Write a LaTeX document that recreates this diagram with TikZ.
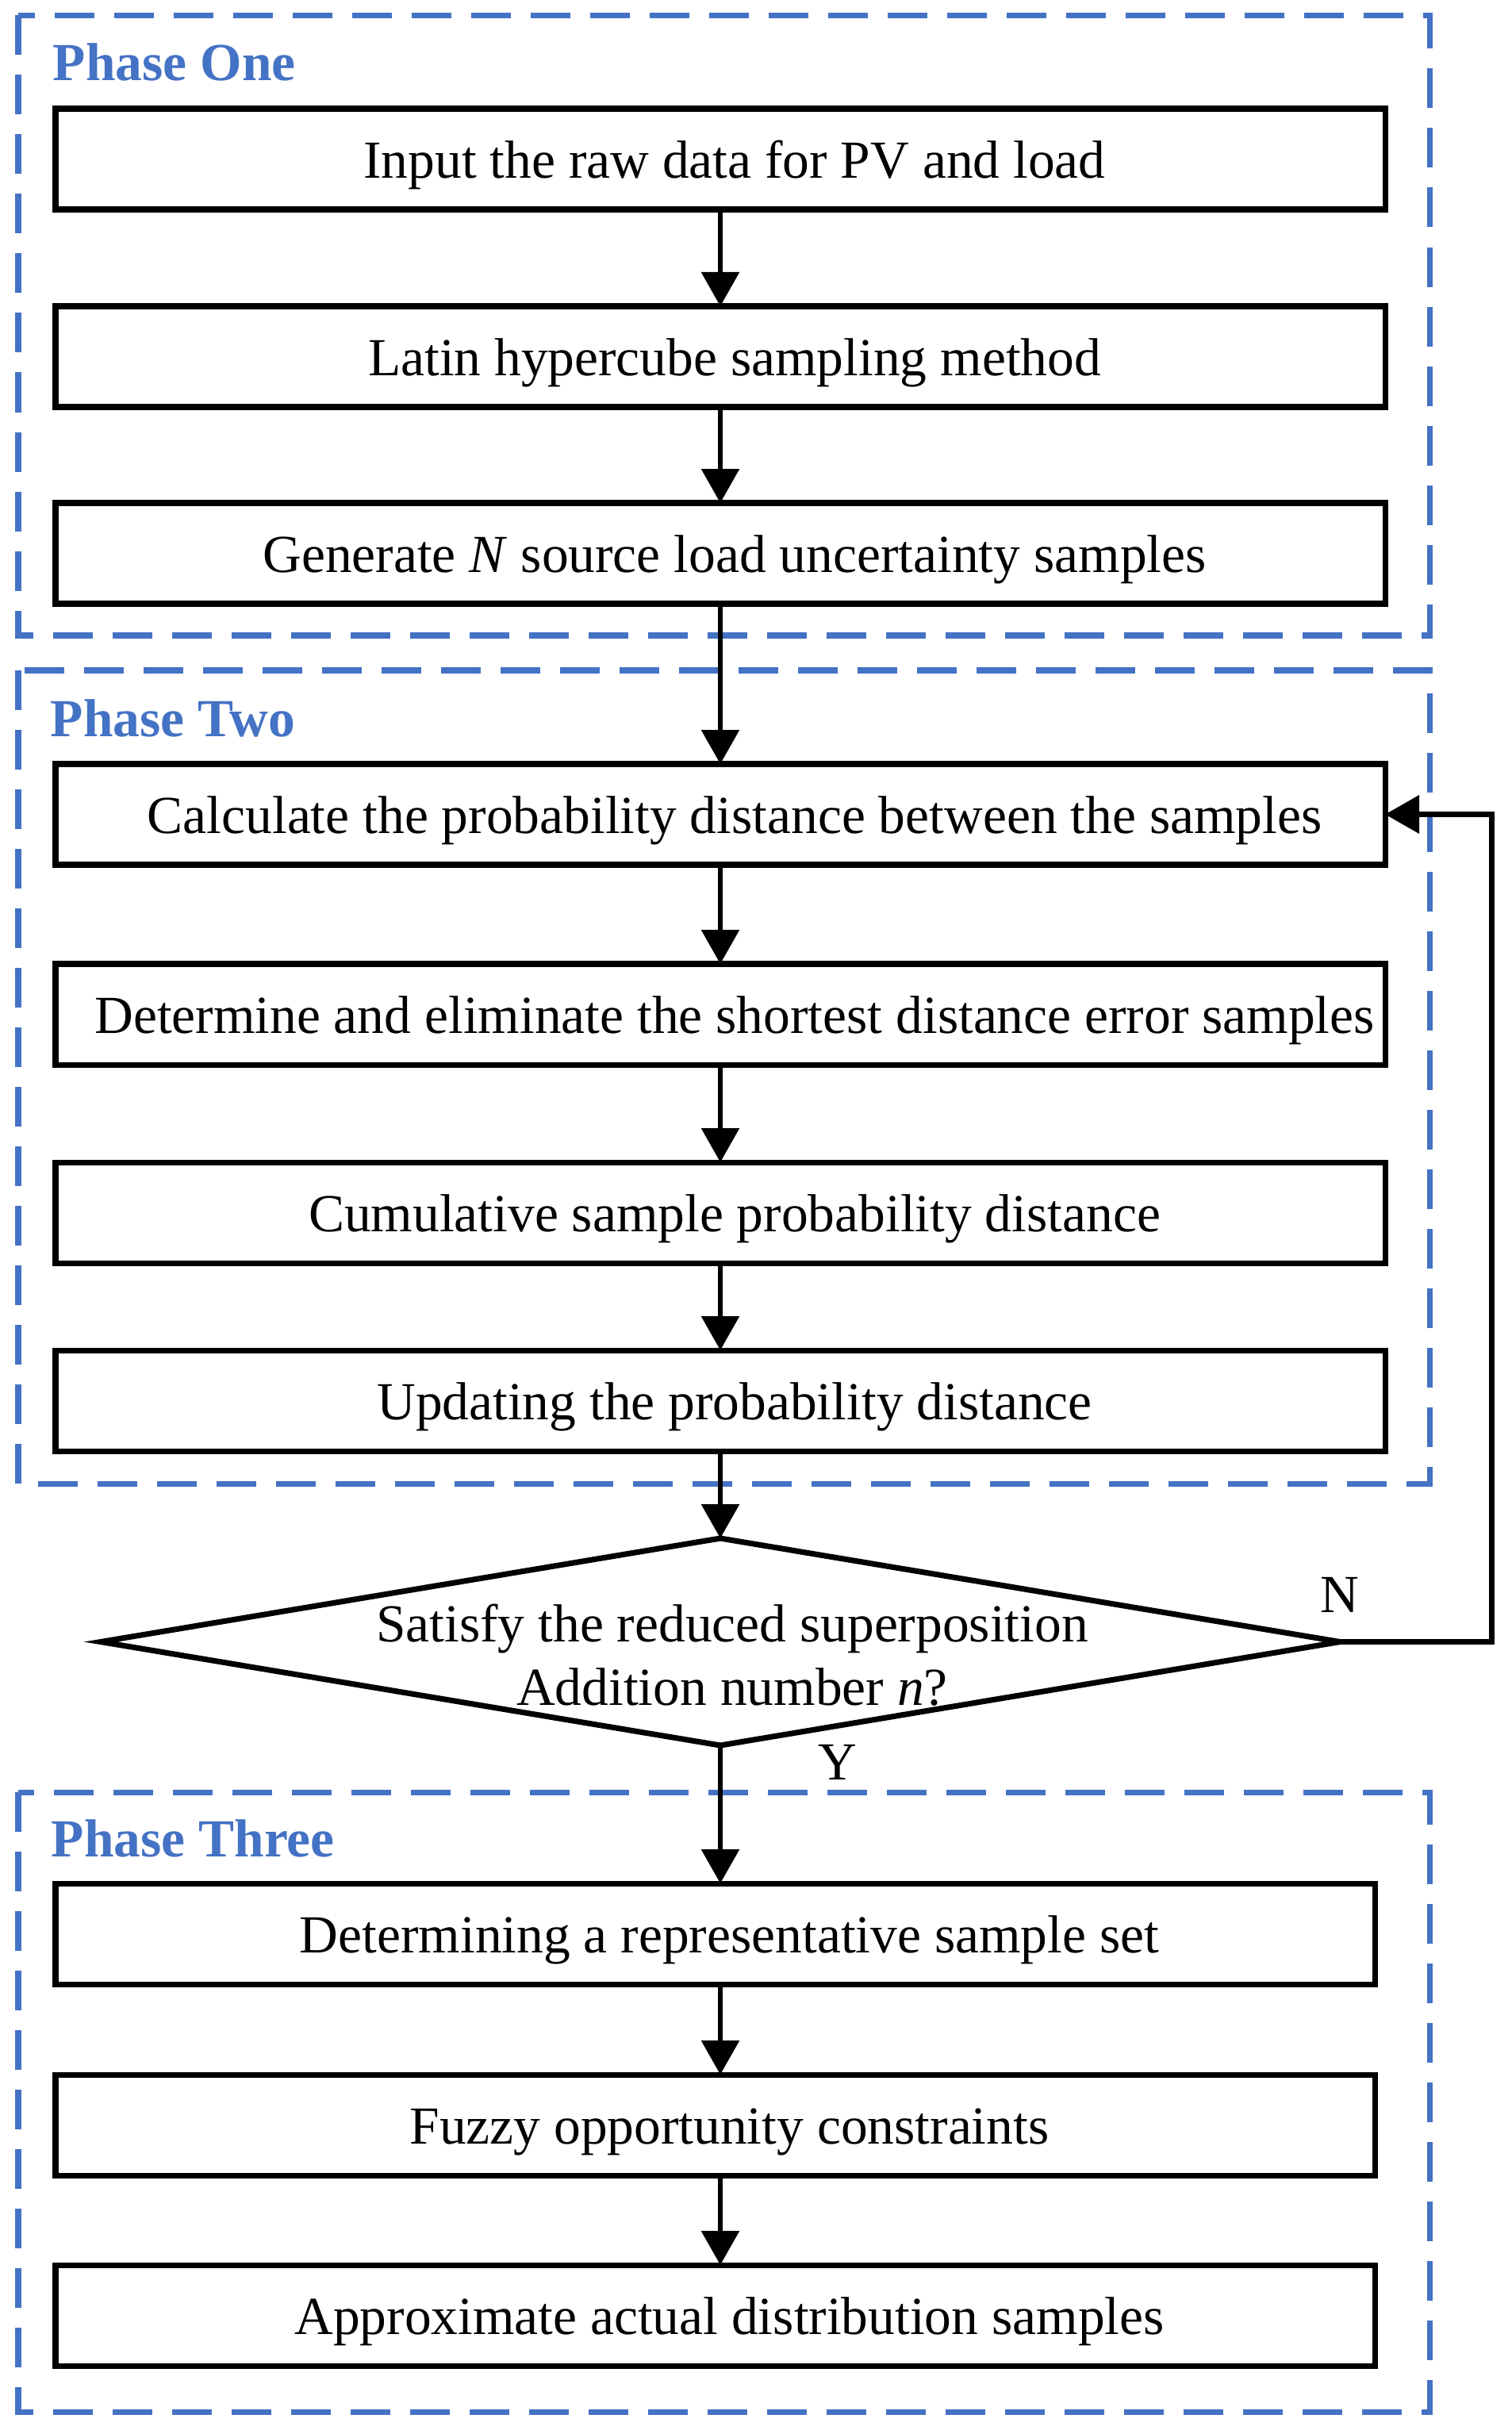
\documentclass[tikz,border=0pt]{standalone}
\usepackage{fontspec}
\setmainfont{Liberation Serif}
\usetikzlibrary{positioning}
\usetikzlibrary{arrows.meta}
\usetikzlibrary{shapes.geometric}
\definecolor{phaseblue}{RGB}{68,114,196}

\begin{document}
\begin{tikzpicture}
[-,line width=1.7pt,>={Triangle[length=0.43cm,width=0.47cm]},
 font=\fontsize{19.2pt}{22.8pt}\selectfont,
 box/.style={draw,line width=2pt,minimum width=16.76cm,minimum height=1.27cm,
   inner sep=0pt,outer sep=0pt,text height=0.6cm,text depth=0.12cm,
   execute at begin node=\hspace*{0.36cm}},
 phase/.style={draw=phaseblue,line width=2pt,dash pattern=on 0.5cm off 0.25cm},
 phasename/.style={anchor=base west,inner sep=0pt,text=phaseblue,
   font=\fontsize{19.2pt}{22.8pt}\selectfont\bfseries}]
\useasboundingbox (0,0) rectangle (19.05,-30.63);
\draw[phase] (0.23,-0.195) rectangle (18.02,-8.01);
\draw[phase] (0.23,-8.45) rectangle (18.02,-18.70);
\draw[phase] (0.23,-22.59) rectangle (18.02,-30.40);
\node (one) [phasename] at (0.64,-1.02) {Phase One};
\node (two) [phasename] at (0.61,-9.28) {Phase Two};
\node (three) [phasename] at (0.62,-23.40) {Phase Three};

\node (b1) [box] at (9.08,-2.005) {Input the raw data for PV and load};
\node (b2) [box,below=1.22cm of b1] {Latin hypercube sampling method};
\node (b3) [box,below=1.21cm of b2] {Generate \textit{N} source load uncertainty samples};
\node (b4) [box,below=2.02cm of b3] {Calculate the probability distance between the samples};
\node (b5) [box,below=1.25cm of b4] {Determine and eliminate the shortest distance error samples};
\node (b6) [box,below=1.23cm of b5] {Cumulative sample probability distance};
\node (b7) [box,below=1.10cm of b6] {Updating the probability distance};
\node (dec) [below=1.10cm of b7,draw,shape=diamond,aspect=6.05,line width=2pt,
  minimum width=15.62cm,minimum height=2.61cm,inner sep=0pt,outer sep=0pt] {};
\node (dectext) [align=center,xshift=0.15cm,yshift=-0.17cm] at (dec.center)
  {Satisfy the reduced superposition\\Addition number \textit{n}?};
\node (b8) [box,minimum width=16.63cm,below=1.74cm of dec,xshift=-0.065cm]
  {Determining a representative sample set};
\node (b9) [box,minimum width=16.63cm,below=1.14cm of b8] {Fuzzy opportunity constraints};
\node (b10) [box,minimum width=16.63cm,below=1.13cm of b9] {Approximate actual distribution samples};

\node (nlab) [above=0.34cm of dec.east,inner sep=0pt] {N};
\node (ylab) [below right=-0.04cm and 1.2cm of dec.south,inner sep=0pt] {Y};
\coordinate [right=1.91cm of dec.east] (back);

\draw[->] (b1) -- (b2);
\draw[->] (b2) -- (b3);
\draw[->] (b3) -- (b4);
\draw[->] (b4) -- (b5);
\draw[->] (b5) -- (b6);
\draw[->] (b6) -- (b7);
\draw[->] (b7) -- (dec);
\draw[->] (dec.south) -- (dec.south |- b8.north);
\draw[->] (b8.south -| dec.south) -- (b9.north -| dec.south);
\draw[->] (b9.south -| dec.south) -- (b10.north -| dec.south);
\draw[->,line width=2pt] (dec.east) -- (back) |- (b4.east);
\end{tikzpicture}
\end{document}
